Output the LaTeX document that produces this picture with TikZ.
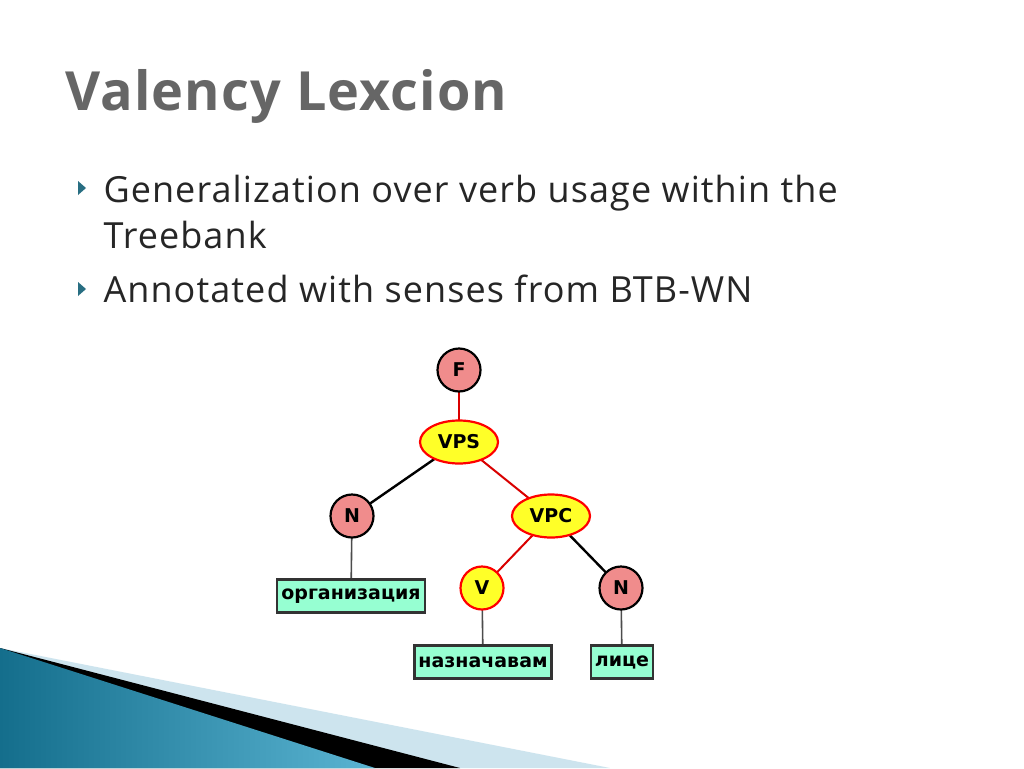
\documentclass[tikz,border=0pt]{standalone}
\usepackage{fontspec}
\setmainfont{Open Sans}
\newfontfamily\treefont{DejaVu Sans}
\usetikzlibrary{shapes.geometric}
\definecolor{pinkn}{RGB}{240,140,140}
\definecolor{yel}{RGB}{255,255,40}
\definecolor{mint}{RGB}{150,255,210}
\definecolor{teal1}{RGB}{20,110,140}
\definecolor{teal2}{RGB}{90,180,210}
\definecolor{lblue}{RGB}{205,228,238}
\definecolor{bul}{RGB}{40,110,130}
\begin{document}
\begin{tikzpicture}[x=1pt,y=-1pt,
  tf/.style={font=\treefont\fontsize{19}{19}\selectfont\bfseries},
  pinknode/.style={circle,draw=black,line width=2.2pt,fill=pinkn,minimum size=43pt,inner sep=0pt,tf},
  yelnode/.style={ellipse,draw=red,line width=2.2pt,fill=yel,minimum width=78pt,minimum height=43pt,inner sep=0pt,tf},
  yelcirc/.style={circle,draw=red,line width=2.2pt,fill=yel,minimum size=43pt,inner sep=0pt,tf},
  leaf/.style={rectangle,draw=black!80,line width=2.2pt,fill=mint,minimum height=33pt,inner xsep=4pt,tf},
  redge/.style={red!85!black,line width=2pt},
  bedge/.style={black,line width=2.4pt},
  gedge/.style={black!70,line width=1.6pt},
  txt/.style={anchor=base west,font=\fontsize{36}{40}\selectfont\addfontfeature{LetterSpace=3},text=black!85},
  bullet/.style={fill=bul}]
\useasboundingbox (0,0) rectangle (1024,768);
\fill[white] (0,0) rectangle (1024,768);
% bottom decoration
\fill[lblue] (0,648) -- (610,768) -- (0,768) -- cycle;
\fill[black] (0,648) -- (460,768) -- (0,768) -- cycle;
\shade[left color=teal1,right color=teal2] (0,648) -- (375,768) -- (0,768) -- cycle;
% title
\node[anchor=base west,font=\fontsize{54}{58}\selectfont\addfontfeature{LetterSpace=2},text=black!60] (title) at (62,110) {\textbf{Valency Lexcion}};
% bullets
\fill[bullet] (78,181) -- (86,188) -- (78,195) -- cycle;
\fill[bullet] (78,282) -- (86,289) -- (78,296) -- cycle;
\node[txt] (b1) at (100,202) {Generalization over verb usage within the};
\node[txt] (b1b) at (100,248) {Treebank};
\node[txt] (b2) at (100,302) {Annotated with senses from BTB-WN};
\coordinate (cF) at (459,370);
\coordinate (cVPS) at (459,442);
\coordinate (cN1) at (352,516);
\coordinate (cVPC) at (551,516);
\coordinate (cV) at (482,588);
\coordinate (cN2) at (621,588);
\coordinate (cL1) at (351,596);
\coordinate (cL2) at (483,662);
\coordinate (cL3) at (622,662);
\draw[redge] (cF) -- (cVPS);
\draw[bedge] (cVPS) -- (cN1);
\draw[redge] (cVPS) -- (cVPC);
\draw[redge] (cVPC) -- (cV);
\draw[bedge] (cVPC) -- (cN2);
\draw[gedge] (cN1) -- (cL1);
\draw[gedge] (cV) -- (cL2);
\draw[gedge] (cN2) -- (cL3);
\node[pinknode] (F) at (cF) {F};
\node[yelnode] (VPS) at (cVPS) {VPS};
\node[pinknode] (N1) at (cN1) {N};
\node[yelnode] (VPC) at (cVPC) {VPC};
\node[yelcirc] (V) at (cV) {V};
\node[pinknode] (N2) at (cN2) {N};
\node[leaf] (L1) at (cL1) {организация};
\node[leaf] (L2) at (cL2) {назначавам};
\node[leaf] (L3) at (cL3) {лице};
\end{tikzpicture}
\end{document}
